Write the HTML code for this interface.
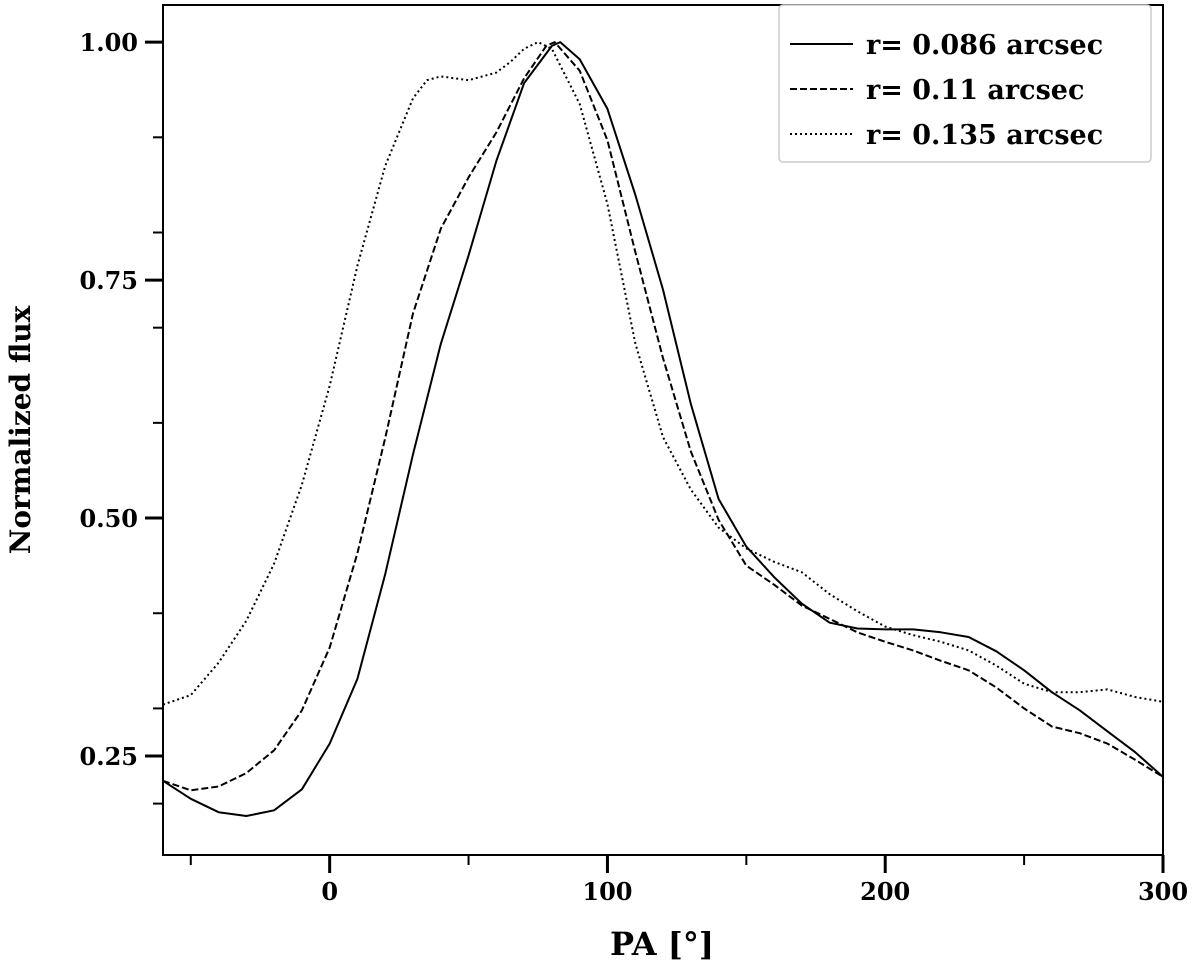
<!DOCTYPE html>
<html><head><meta charset="utf-8"><style>
html,body{margin:0;padding:0;background:#fff;}
svg{display:block;}
text{font-family:"DejaVu Serif","Liberation Serif",serif;font-weight:bold;fill:#000;}
</style></head><body>
<svg id="chart" width="1200" height="980" viewBox="0 0 1200 980" xmlns="http://www.w3.org/2000/svg">
<g id="plot"></g>
<g id="axes"></g>
<text x="0" y="0" font-size="28" text-anchor="middle" transform="translate(30,430) rotate(-90)">Normalized flux</text>
<text x="662" y="955" font-size="32" text-anchor="middle">PA [°]</text>
<g>
<rect x="779" y="5" width="372" height="157" rx="4" fill="#fff" stroke="#ccc" stroke-width="1.5"/>
<line x1="790" y1="44" x2="853" y2="44" stroke="#000" stroke-width="2"/>
<text x="866" y="54" font-size="27">r= 0.086 arcsec</text>
<line x1="790" y1="89" x2="853" y2="89" stroke="#000" stroke-width="2" stroke-dasharray="7,3"/>
<text x="866" y="99" font-size="27">r= 0.11 arcsec</text>
<line x1="790" y1="134" x2="853" y2="134" stroke="#000" stroke-width="2" stroke-dasharray="2,3"/>
<text x="866" y="144" font-size="27">r= 0.135 arcsec</text>
</g>
</svg>
<script>
const xTicks = [0, 100, 200, 300];
const xMinor = [-50, 50, 150, 250];
const yTicks = [0.25, 0.50, 0.75, 1.00];
const yTickLabels = ["0.25", "0.50", "0.75", "1.00"];
const yMinor = [0.2, 0.3, 0.4, 0.6, 0.7, 0.8, 0.9];
const paSolid = [-60,-50,-40,-30,-20,-10,0,10,20,30,40,50,60,70,80,83,90,100,110,120,130,140,150,160,170,180,190,200,210,220,230,240,250,260,270,280,290,300];
const fluxSolid = [0.224,0.205,0.191,0.187,0.193,0.215,0.263,0.331,0.441,0.567,0.683,0.776,0.875,0.957,0.996,1.0,0.982,0.93,0.84,0.74,0.62,0.52,0.47,0.438,0.41,0.39,0.384,0.383,0.383,0.38,0.375,0.36,0.34,0.317,0.298,0.276,0.254,0.228];
const paDashed = [-60,-50,-40,-30,-20,-10,0,10,20,30,40,50,60,70,78,81,90,100,110,120,130,140,150,160,170,180,190,200,210,220,230,240,250,260,270,280,290,300];
const fluxDashed = [0.224,0.214,0.218,0.232,0.256,0.298,0.364,0.463,0.584,0.715,0.804,0.858,0.905,0.962,0.996,1.0,0.97,0.897,0.78,0.668,0.57,0.498,0.45,0.43,0.408,0.394,0.38,0.37,0.361,0.35,0.34,0.322,0.30,0.281,0.274,0.263,0.246,0.228];
const paDotted = [-60,-50,-40,-30,-20,-10,0,10,20,30,35,40,50,60,65,70,75,80,90,100,110,120,130,140,150,160,170,180,190,200,210,220,230,240,250,260,270,280,290,300];
const fluxDotted = [0.304,0.314,0.348,0.392,0.452,0.535,0.639,0.765,0.87,0.941,0.96,0.964,0.96,0.968,0.979,0.993,1.0,0.993,0.935,0.83,0.684,0.585,0.53,0.49,0.468,0.454,0.443,0.42,0.402,0.386,0.377,0.37,0.361,0.345,0.326,0.317,0.317,0.32,0.312,0.307];

const L=163,R=1163,T=5,B=855, X0=-60,X1=300, Y0=0.146,Y1=1.039;
const sx=v=>L+(v-X0)/(X1-X0)*(R-L);
const sy=v=>B-(v-Y0)/(Y1-Y0)*(B-T);
const NS="http://www.w3.org/2000/svg";
const plot=document.getElementById('plot'), axes=document.getElementById('axes');
function mk(tag,attrs,parent){const e=document.createElementNS(NS,tag);for(const k in attrs)e.setAttribute(k,attrs[k]);parent.appendChild(e);return e;}

function series(xs,ys,dash,name){
  const d=xs.map((x,i)=>(i?'L':'M')+sx(x).toFixed(1)+','+sy(ys[i]).toFixed(1)).join(' ');
  const p=mk('path',{d:d,fill:'none',stroke:'#000','stroke-width':2,'stroke-linejoin':'round'},plot);
  if(dash)p.setAttribute('stroke-dasharray',dash);
  
  
}
series(paSolid,fluxSolid,null,'series-r0086-solid');
series(paDashed,fluxDashed,'7,3','series-r011-dashed');
series(paDotted,fluxDotted,'2,3','series-r0135-dotted');

const frame=mk('rect',{x:L,y:T,width:R-L,height:B-T,fill:'none',stroke:'#000','stroke-width':2},axes);



xTicks.forEach(v=>{
  const t=mk('line',{x1:sx(v),x2:sx(v),y1:B,y2:B+18,stroke:'#000','stroke-width':3},axes);
  
  
  const l=mk('text',{x:sx(v),y:B+45,'font-size':24,'text-anchor':'middle'},axes);
  l.textContent=String(v);
  
  
});
xMinor.forEach(v=>{
  const t=mk('line',{x1:sx(v),x2:sx(v),y1:B,y2:B+10,stroke:'#000','stroke-width':2},axes);
  
  
});
yTicks.forEach((v,i)=>{
  const t=mk('line',{x1:L-18,x2:L,y1:sy(v),y2:sy(v),stroke:'#000','stroke-width':3},axes);
  
  
  const l=mk('text',{x:L-25,y:sy(v)+9,'font-size':24,'text-anchor':'end'},axes);
  l.textContent=yTickLabels[i];
  
  
});
yMinor.forEach(v=>{
  const t=mk('line',{x1:L-10,x2:L,y1:sy(v),y2:sy(v),stroke:'#000','stroke-width':2},axes);
  
  
});
</script>
</body></html>
